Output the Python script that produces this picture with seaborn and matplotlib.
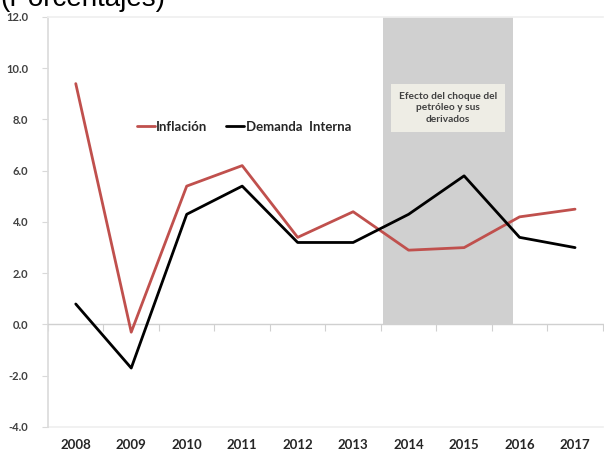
import matplotlib
matplotlib.use("Agg")
import matplotlib.pyplot as plt
import seaborn as sns
import pandas as pd
import numpy as np

years = [2008, 2009, 2010, 2011, 2012, 2013, 2014, 2015, 2016, 2017]
inflacion = [9.4, -0.3, 5.4, 6.2, 3.4, 4.4, 2.9, 3.0, 4.2, 4.5]
demanda = [0.8, -1.7, 4.3, 5.4, 3.2, 3.2, 4.3, 5.8, 3.4, 3.0]
series_names = ["Inflación", "Demanda  Interna"]
shock_span = (2013.54, 2015.88)
shock_text = "Efecto del choque del\npetróleo y sus\nderivados"
yticks = [-4.0, -2.0, 0.0, 2.0, 4.0, 6.0, 8.0, 10.0, 12.0]

df = pd.DataFrame({
    "year": years * 2,
    "value": inflacion + demanda,
    "serie": [series_names[0]] * len(years) + [series_names[1]] * len(years),
})

sns.set_theme(style="white")
plt.rcParams["font.family"] = ["Lato", "DejaVu Sans"]

fig = plt.figure(figsize=(6.04, 4.54), dpi=100)
ax = fig.add_axes([0.0795, 0.0595, 0.9185, 0.9031])

ax.fill_between(list(shock_span), 0, 12, color="#D0D0D0", zorder=0, lw=0)

sns.lineplot(data=df, x="year", y="value", hue="serie",
             palette={series_names[0]: "#C0504D", series_names[1]: "#000000"},
             linewidth=2.0, ax=ax, zorder=3)

ax.set_xlim(2007.5, 2017.5)
ax.set_ylim(-4, 12)
ax.set_yticks(yticks)
ax.set_yticklabels([f"{v:.1f}" for v in yticks], fontsize=8, fontweight="bold", color="#404040")
ax.tick_params(axis="y", length=4, width=0.8, color="#D9D9D9", pad=10, left=True)
ax.set_xlabel("")
ax.set_ylabel("")

# axis line at zero with boundary ticks
ax.spines["bottom"].set_position(("data", 0))
ax.spines["bottom"].set_color("#D0D0D0")
ax.spines["bottom"].set_linewidth(1.0)
ax.set_xticks(years)
ax.set_xticklabels([])
ax.tick_params(axis="x", which="major", length=0)
ax.set_xticks(np.arange(2007.5, 2018.0, 1.0), minor=True)
ax.tick_params(axis="x", which="minor", length=5, width=0.8, color="#D0D0D0", direction="out", bottom=True)

ax.spines["left"].set_color("#DCDCDC")
ax.spines["top"].set_color("#F0F0F0")
ax.spines["right"].set_visible(False)

sec = ax.secondary_xaxis(0)
sec.set_xticks(years)
sec.set_xticklabels([str(y) for y in years], fontsize=9.5, fontweight="bold", color="#262626")
sec.tick_params(length=0, pad=9)
sec.spines["bottom"].set_color("#F0F0F0")

leg = ax.legend(loc="center", bbox_to_anchor=(0.353, 0.732), ncol=2, frameon=False,
                handlelength=1.4, handletextpad=0.1, columnspacing=1.4,
                prop={"weight": "bold", "size": 9.5})
for t in leg.get_texts():
    t.set_color("#262626")

ax.text(sum(shock_span) / 2, 8.45, shock_text, ha="center", va="center",
        fontsize=7.3, fontweight="bold", color="#404040", linespacing=1.4,
        bbox=dict(boxstyle="square,pad=0.8", fc="#EEEDE5", ec="none"), zorder=4)

fig.text(0.0, 0.986, "(Porcentajes)", ha="left", va="baseline", fontsize=20, color="#000000",
         family=["Liberation Sans", "DejaVu Sans"])

fig.savefig("out.png", dpi=100)
